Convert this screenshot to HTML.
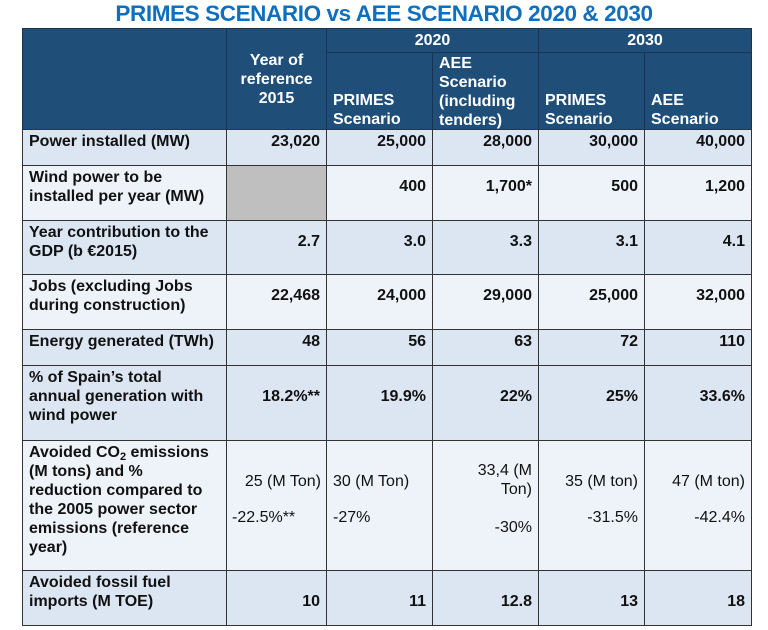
<!DOCTYPE html>
<html><head><meta charset="utf-8"><style>
body{margin:0;width:768px;height:630px;background:#fff;font-family:"Liberation Sans",Arial,sans-serif;position:relative;overflow:hidden}
.t{position:absolute;left:0;width:768px;top:1px;text-align:center;color:#0f6fbd;font-weight:bold;font-size:22.5px;letter-spacing:-0.4px}
.c{position:absolute;box-sizing:border-box;border:1px solid #333;font-weight:bold;font-size:16px;line-height:19px;color:#111;padding:2px 6px}
.h{background:#1f4e79;color:#fff;border-color:#1b3350}
.a{background:#dce6f2}.b{background:#eef3f9}
.r{text-align:right}
.n{font-weight:normal}
</style></head><body>
<div class="t">PRIMES SCENARIO vs AEE SCENARIO 2020 &amp; 2030</div>
<div class="c h" style="left:22px;top:28px;width:205px;height:102px"></div>
<div class="c h" style="left:226px;top:28px;width:101px;height:102px;text-align:center;padding-top:22px">Year of reference 2015</div>
<div class="c h" style="left:326px;top:28px;width:213px;height:25px;text-align:center;padding-top:2px">2020</div>
<div class="c h" style="left:538px;top:28px;width:214px;height:25px;text-align:center;padding-top:2px">2030</div>
<div class="c h" style="left:326px;top:52px;width:107px;height:78px;padding-top:38px">PRIMES Scenario</div>
<div class="c h" style="left:432px;top:52px;width:107px;height:78px;padding-top:1px">AEE Scenario (including tenders)</div>
<div class="c h" style="left:538px;top:52px;width:107px;height:78px;padding-top:38px">PRIMES Scenario</div>
<div class="c h" style="left:644px;top:52px;width:108px;height:78px;padding-top:38px;padding-right:40px">AEE Scenario</div>

<div class="c a" style="left:22px;top:129px;width:205px;height:37px">Power installed (MW)</div>
<div class="c a r" style="left:226px;top:129px;width:101px;height:37px">23,020</div>
<div class="c a r" style="left:326px;top:129px;width:107px;height:37px">25,000</div>
<div class="c a r" style="left:432px;top:129px;width:107px;height:37px">28,000</div>
<div class="c a r" style="left:538px;top:129px;width:107px;height:37px">30,000</div>
<div class="c a r" style="left:644px;top:129px;width:108px;height:37px">40,000</div>

<div class="c b" style="left:22px;top:165px;width:205px;height:56px;padding-right:4px">Wind power to be<br>installed per year (MW)</div>
<div class="c" style="left:226px;top:165px;width:101px;height:56px;background:#bfbfbf"></div>
<div class="c b r" style="left:326px;top:165px;width:107px;height:56px;padding-top:11px">400</div>
<div class="c b r" style="left:432px;top:165px;width:107px;height:56px;padding-top:11px">1,700*</div>
<div class="c b r" style="left:538px;top:165px;width:107px;height:56px;padding-top:11px">500</div>
<div class="c b r" style="left:644px;top:165px;width:108px;height:56px;padding-top:11px">1,200</div>

<div class="c a" style="left:22px;top:220px;width:205px;height:55px">Year contribution to the GDP (b €2015)</div>
<div class="c a r" style="left:226px;top:220px;width:101px;height:55px;padding-top:11px">2.7</div>
<div class="c a r" style="left:326px;top:220px;width:107px;height:55px;padding-top:11px">3.0</div>
<div class="c a r" style="left:432px;top:220px;width:107px;height:55px;padding-top:11px">3.3</div>
<div class="c a r" style="left:538px;top:220px;width:107px;height:55px;padding-top:11px">3.1</div>
<div class="c a r" style="left:644px;top:220px;width:108px;height:55px;padding-top:11px">4.1</div>

<div class="c b" style="left:22px;top:274px;width:205px;height:56px">Jobs (excluding Jobs during construction)</div>
<div class="c b r" style="left:226px;top:274px;width:101px;height:56px;padding-top:11px">22,468</div>
<div class="c b r" style="left:326px;top:274px;width:107px;height:56px;padding-top:11px">24,000</div>
<div class="c b r" style="left:432px;top:274px;width:107px;height:56px;padding-top:11px">29,000</div>
<div class="c b r" style="left:538px;top:274px;width:107px;height:56px;padding-top:11px">25,000</div>
<div class="c b r" style="left:644px;top:274px;width:108px;height:56px;padding-top:11px">32,000</div>

<div class="c a" style="left:22px;top:329px;width:205px;height:37px">Energy generated (TWh)</div>
<div class="c a r" style="left:226px;top:329px;width:101px;height:37px">48</div>
<div class="c a r" style="left:326px;top:329px;width:107px;height:37px">56</div>
<div class="c a r" style="left:432px;top:329px;width:107px;height:37px">63</div>
<div class="c a r" style="left:538px;top:329px;width:107px;height:37px">72</div>
<div class="c a r" style="left:644px;top:329px;width:108px;height:37px">110</div>

<div class="c a" style="left:22px;top:365px;width:205px;height:76px;padding-right:20px">% of Spain’s total annual generation with wind power</div>
<div class="c a r" style="left:226px;top:365px;width:101px;height:76px;padding-top:21px">18.2%**</div>
<div class="c a r" style="left:326px;top:365px;width:107px;height:76px;padding-top:21px">19.9%</div>
<div class="c a r" style="left:432px;top:365px;width:107px;height:76px;padding-top:21px">22%</div>
<div class="c a r" style="left:538px;top:365px;width:107px;height:76px;padding-top:21px">25%</div>
<div class="c a r" style="left:644px;top:365px;width:108px;height:76px;padding-top:21px">33.6%</div>

<div class="c b" style="left:22px;top:440px;width:205px;height:131px;padding-right:14px">Avoided CO<span style="font-size:11px;vertical-align:-3px;line-height:0">2</span> emissions (M tons) and % reduction compared to the 2005 power sector emissions (reference year)</div>
<div class="c b r n" style="left:226px;top:440px;width:101px;height:131px;padding:31px 5px 0 5px">25 (M Ton)<br><span style="display:block;text-align:left;margin-top:17px">-22.5%**</span></div>
<div class="c b n" style="left:326px;top:440px;width:107px;height:131px;padding-top:31px">30 (M Ton)<br><span style="display:block;margin-top:17px">-27%</span></div>
<div class="c b r n" style="left:432px;top:440px;width:107px;height:131px;padding-top:20px;padding-left:30px">33,4 (M Ton)<br><span style="display:block;margin-top:19px">-30%</span></div>
<div class="c b r n" style="left:538px;top:440px;width:107px;height:131px;padding-top:31px">35 (M ton)<br><span style="display:block;margin-top:17px">-31.5%</span></div>
<div class="c b r n" style="left:644px;top:440px;width:108px;height:131px;padding-top:31px">47 (M ton)<br><span style="display:block;margin-top:17px">-42.4%</span></div>

<div class="c a" style="left:22px;top:570px;width:205px;height:56px;padding-right:40px">Avoided fossil fuel imports (M TOE)</div>
<div class="c a r" style="left:226px;top:570px;width:101px;height:56px;padding-top:21px">10</div>
<div class="c a r" style="left:326px;top:570px;width:107px;height:56px;padding-top:21px">11</div>
<div class="c a r" style="left:432px;top:570px;width:107px;height:56px;padding-top:21px">12.8</div>
<div class="c a r" style="left:538px;top:570px;width:107px;height:56px;padding-top:21px">13</div>
<div class="c a r" style="left:644px;top:570px;width:108px;height:56px;padding-top:21px">18</div>
</body></html>
